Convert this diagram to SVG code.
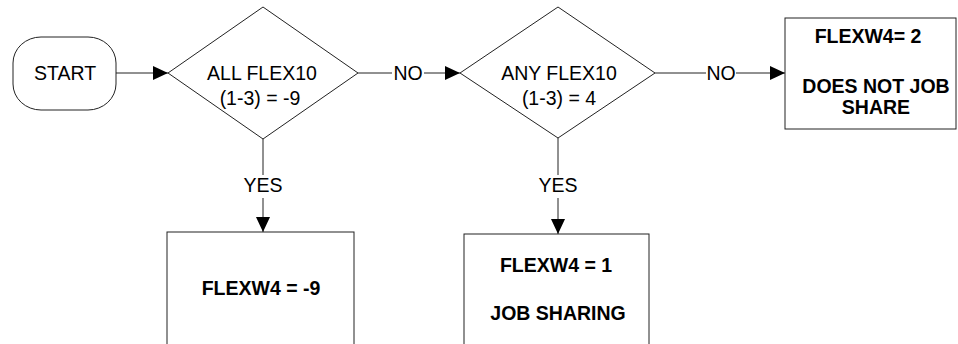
<svg xmlns="http://www.w3.org/2000/svg" width="958" height="344" viewBox="0 0 958 344">
<defs>
<style>
.shape{fill:#fff;stroke:#222;stroke-width:1}
.line{fill:none;stroke:#222;stroke-width:1}
.t{font-family:"Liberation Sans",Arial,sans-serif;font-size:19.5px;fill:#000;text-anchor:middle}
.b{font-weight:bold}
</style>
<marker id="arr" markerWidth="15" markerHeight="14" refX="15" refY="7" orient="auto" markerUnits="userSpaceOnUse">
<path d="M0,0 L15,7 L0,14 Z" fill="#000"/>
</marker>
</defs>
<rect width="958" height="344" fill="#fff"/>
<g id="connectors">
<line class="line" x1="116" y1="73" x2="168" y2="73" marker-end="url(#arr)"/>
<line class="line" x1="358" y1="73" x2="392" y2="73"/>
<line class="line" x1="424" y1="73" x2="460" y2="73" marker-end="url(#arr)"/>
<text class="t" x="408" y="80">NO</text>
<line class="line" x1="655" y1="73" x2="706" y2="73"/>
<line class="line" x1="736" y1="73" x2="785" y2="73" marker-end="url(#arr)"/>
<text class="t" x="721" y="80">NO</text>
<line class="line" x1="263" y1="139" x2="263" y2="175"/>
<line class="line" x1="263" y1="198" x2="263" y2="232" marker-end="url(#arr)"/>
<text class="t" x="263" y="192">YES</text>
<line class="line" x1="558" y1="138" x2="558" y2="175"/>
<line class="line" x1="558" y1="198" x2="558" y2="234" marker-end="url(#arr)"/>
<text class="t" x="558" y="192">YES</text>
</g>
<g id="start">
<rect class="shape" x="13" y="37" width="103" height="73" rx="28" ry="26"/>
<text class="t" x="65" y="80">START</text>
</g>
<g id="decision1">
<polygon class="shape" points="263,7 358,73 263,139 168,73"/>
<text class="t" x="262" y="80">ALL FLEX10</text>
<text class="t" x="260" y="105">(1-3) = -9</text>
</g>
<g id="decision2">
<polygon class="shape" points="558,7 655,73 558,138 460,73"/>
<text class="t" x="559" y="80">ANY FLEX10</text>
<text class="t" x="559" y="105">(1-3) = 4</text>
</g>
<g id="box-not-share">
<rect class="shape" x="785" y="18" width="171" height="111"/>
<text class="t b" x="868" y="43">FLEXW4= 2</text>
<text class="t b" x="876" y="93">DOES NOT JOB</text>
<text class="t b" x="876" y="114">SHARE</text>
</g>
<g id="box-minus9">
<rect class="shape" x="167" y="232" width="187" height="130"/>
<text class="t b" x="261" y="295">FLEXW4 = -9</text>
</g>
<g id="box-sharing">
<rect class="shape" x="464" y="234" width="185" height="130"/>
<text class="t b" x="556" y="272">FLEXW4 = 1</text>
<text class="t b" x="558" y="320">JOB SHARING</text>
</g>
</svg>
